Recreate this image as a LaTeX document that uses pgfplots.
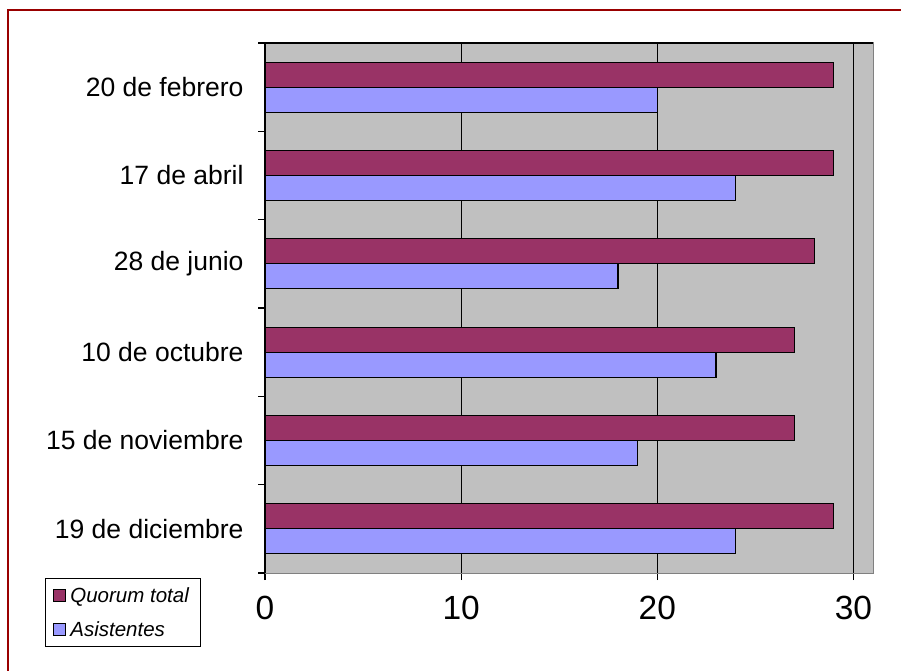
\documentclass[border=0pt]{standalone}
\usepackage{fontspec}
\setmainfont{Liberation Sans}
\usepackage{pgfplots}
\pgfplotsset{compat=1.18}

\definecolor{quorum}{HTML}{993366}
\definecolor{asist}{HTML}{9999FF}
\definecolor{plotbg}{HTML}{C0C0C0}
\definecolor{frame}{HTML}{990000}

\begin{document}
\begin{tikzpicture}[x=1pt,y=1pt]
\useasboundingbox (0,0) rectangle (901,671);
\draw[frame, line width=1.2pt] (8,0) -- (8,661) -- (901,661);

\begin{axis}[
    at={(265pt,98pt)}, anchor=south west,
    scale only axis,
    width=608pt, height=530pt,
    xbar, bar width=25pt,
    xmin=0, xmax=31,
    ymin=-0.5, ymax=5.5,
    y dir=reverse,
    axis background/.style={fill=plotbg},
    axis line style={draw=gray, line width=1pt},
    xtick={0,10,20,30},
    xmajorgrids,
    major grid style={black, line width=1.2pt},
    tick align=outside,
    tick style={black, line width=1.2pt},
    major tick length=7pt,
    minor tick length=7pt,
    xtick pos=bottom,
    ytick pos=left,
    ytick={0,...,5},
    yticklabels={20 de febrero, 17 de abril, 28 de junio, 10 de octubre, 15 de noviembre, 19 de diciembre},
    every major y tick/.style={draw=none},
    minor ytick={-0.5,0.5,1.5,2.5,3.5,4.5,5.5},
    every minor y tick/.style={black, line width=1.2pt},
    yticklabel style={font=\fontsize{26.5}{30}\selectfont, xshift=-11pt},
    xticklabel style={font=\fontsize{33.5}{38}\selectfont, yshift=-13pt},
    /pgf/number format/assume math mode=true,
    legend style={at={(-0.362,-0.009)}, anchor=north west,
        draw=black, line width=1pt,
        font=\fontsize{20.5}{24}\selectfont\itshape,
        inner xsep=8pt, inner ysep=6pt, row sep=12pt,
        nodes={inner xsep=4pt, inner ysep=3pt}},
    legend cell align=left,
    after end axis/.code={
        \draw[black, line width=1.2pt] (rel axis cs:0,0) -- (rel axis cs:0,1);
        \draw[black, line width=1.2pt] (rel axis cs:0,1) -- (rel axis cs:1,1);
    },
]
\addplot[fill=quorum, draw=black, line width=1.3pt, bar shift=12.5pt,
    legend image code/.code={\draw[fill=quorum, draw=black, line width=1pt] (0pt,-6pt) rectangle (12pt,6pt);}]
    coordinates {(29,0) (29,1) (28,2) (27,3) (27,4) (29,5)};
\addplot[fill=asist, draw=black, line width=1.3pt, bar shift=-12.5pt,
    legend image code/.code={\draw[fill=asist, draw=black, line width=1pt] (0pt,-6pt) rectangle (12pt,6pt);}]
    coordinates {(20,0) (24,1) (18,2) (23,3) (19,4) (24,5)};
\legend{Quorum total, Asistentes}
\end{axis}
\end{tikzpicture}
\end{document}
